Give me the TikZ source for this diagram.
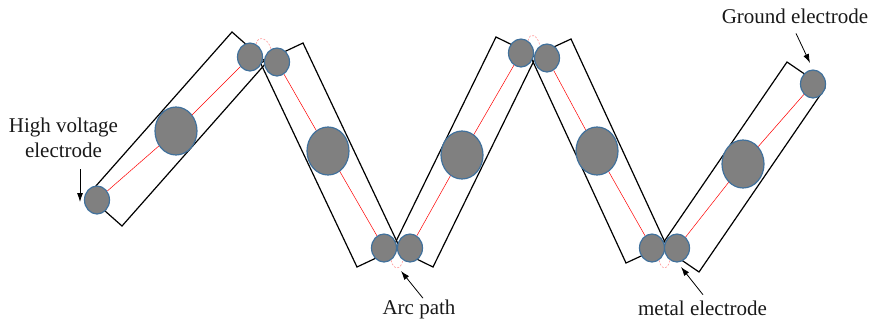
\documentclass[tikz,border=0pt]{standalone}
\usepackage{fontspec}
\setmainfont{Liberation Serif}
\usetikzlibrary{shapes.geometric,arrows.meta}
\definecolor{rimblue}{RGB}{65,113,156}
\definecolor{padgray}{RGB}{128,128,128}

\begin{document}
\begin{tikzpicture}[x=1pt,y=-1pt,
  tube/.style={draw=black,line width=1.2pt},
  wire/.style={draw=red,line width=0.5pt},
  pad/.style={ellipse,draw=rimblue,fill=padgray,line width=1.2pt,inner sep=0pt,minimum width=25pt,minimum height=28pt},
  bigpad/.style={pad,minimum width=42pt,minimum height=48pt},
  spark/.style={draw=red!40,line width=0.6pt,dash pattern=on 2pt off 1.5pt},
  lbl/.style={font=\fontsize{21}{25}\selectfont,inner sep=0pt,text=black!90},
  pointer/.style={->,>={Latex[length=9pt,width=6pt]},line width=0.8pt}]
\useasboundingbox (0,0) rectangle (872,325);

% tubes
\draw[tube] (232,32) -- (266.5,62.5) -- (122,226) -- (87.5,195.5) -- cycle;
\draw[tube] (260.5,63) -- (303,43) -- (399.5,247) -- (357,267) -- cycle;
\draw[tube] (496,37) -- (536,56.5) -- (433,267) -- (393,247.5) -- cycle;
\draw[tube] (531,57.5) -- (571,39) -- (666,244.5) -- (626,263) -- cycle;
\draw[tube] (787,62) -- (825,88) -- (699,272) -- (661,246) -- cycle;

% electrodes
\node[pad] (hvpad) at (97,200) {};
\node[bigpad] (mid1) at (176,131) {};
\node[pad] (m1a) at (250,57) {};
\node[pad] (m1b) at (277,62) {};
\node[bigpad] (mid2) at (328,151) {};
\node[pad] (m2a) at (384,248) {};
\node[pad] (m2b) at (410,248) {};
\node[bigpad] (mid3) at (462,155) {};
\node[pad] (m3a) at (521,53) {};
\node[pad] (m3b) at (547,58) {};
\node[bigpad] (mid4) at (597,151) {};
\node[pad] (m4a) at (652,248) {};
\node[pad] (m4b) at (677,248) {};
\node[bigpad] (mid5) at (743,164) {};
\node[pad] (gndpad) at (813,84) {};

\draw[wire] (hvpad) -- (mid1) -- (m1a);
\draw[wire] (m1b) -- (mid2) -- (m2a);
\draw[wire] (m2b) -- (mid3) -- (m3a);
\draw[wire] (m3b) -- (mid4) -- (m4a);
\draw[wire] (m4b) -- (mid5) -- (gndpad);

% arcs between neighbouring electrodes
\draw[spark] (m1a.65) .. controls +(2,-10) and +(-2,-10) .. (m1b.115);
\draw[spark] (m2a.-60) .. controls +(2,10) and +(-2,10) .. (m2b.-120);
\draw[spark] (m3a.60) .. controls +(2,-10) and +(-2,-10) .. (m3b.120);
\draw[spark] (m4a.-60) .. controls +(2,10) and +(-2,10) .. (m4b.-120);

% labels
\node[lbl,align=center,anchor=north] (hvlbl) at (63.5,118) {High voltage\\electrode};
\node[lbl,anchor=base] (gndlbl) at (795,23) {Ground electrode};
\node[lbl,anchor=base] (arclbl) at (419,314) {Arc path};
\node[lbl,anchor=base] (metallbl) at (702.5,315.5) {metal electrode};

\coordinate (hvtip) at (80,202);
\coordinate (gndtip) at (810,63);
\coordinate (arctip) at (401,271);
\coordinate (metaltip) at (681,267);

\draw[pointer] ([xshift=16.5pt,yshift=-11pt]hvlbl.south) -- (hvtip);
\draw[pointer] ([xshift=1pt,yshift=-10pt]gndlbl.south) -- (gndtip);
\draw[pointer] ([xshift=4pt,yshift=1pt]arclbl.north) -- (arctip);
\draw[pointer] ([xshift=0.5pt,yshift=6pt]metallbl.north) -- (metaltip);
\end{tikzpicture}
\end{document}
